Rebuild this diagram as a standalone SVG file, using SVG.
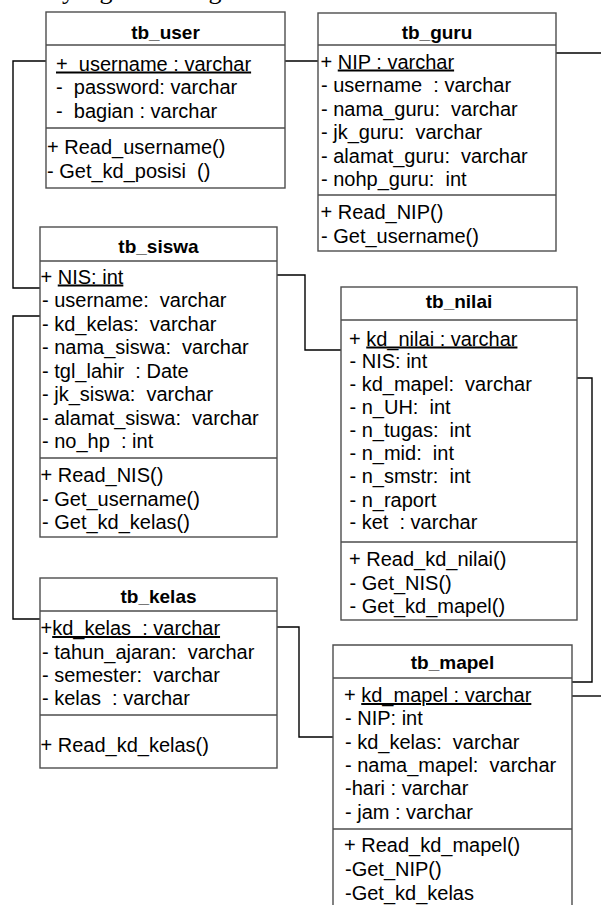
<svg xmlns="http://www.w3.org/2000/svg" width="601" height="905" viewBox="0 0 601 905">
<style>
.box{fill:#fff;stroke:#4d4d4d;stroke-width:1.4}
.sep{stroke:#4d4d4d;stroke-width:1.4}
.t{font-family:"Liberation Sans",Arial,sans-serif;font-size:20px;fill:#000}
.h{font-family:"Liberation Sans",Arial,sans-serif;font-size:19px;font-weight:bold;text-anchor:middle;fill:#000}
.u{text-decoration:underline}
.conn{fill:none;stroke:#000;stroke-width:1.4}
.cap{font-family:"Liberation Serif","Times New Roman",serif;font-size:26px;fill:#000}
</style>
<rect width="601" height="905" fill="#fff"/>
<text class="cap" x="62" y="-1.5">yang dirancang:</text>

<g id="connectors">
<path class="conn" d="M285 61H318"/>
<path class="conn" d="M46 61H13V288H40"/>
<path class="conn" d="M40 316H13V619H40"/>
<path class="conn" d="M277 275H305V350H341"/>
<path class="conn" d="M577 378H592V682H572"/>
<path class="conn" d="M277 627H299V737H333"/>
<path class="conn" d="M556 53H601"/>
<path class="conn" d="M572 696H601"/>
</g>

<g id="tb_user">
<rect class="box" x="46" y="12" width="239" height="176"/>
<line class="sep" x1="46" y1="45" x2="285" y2="45"/>
<line class="sep" x1="46" y1="128" x2="285" y2="128"/>
<text class="h" x="165.5" y="38.5">tb_user</text>
<text class="t u" x="56" y="70.5" xml:space="preserve">+  username : varchar</text>
<text class="t" x="56" y="94" xml:space="preserve">-  password: varchar</text>
<text class="t" x="56" y="117.5" xml:space="preserve">-  bagian : varchar</text>
<text class="t" x="47" y="154">+ Read_username()</text>
<text class="t" x="47" y="178" xml:space="preserve">- Get_kd_posisi  ()</text>
</g>

<g id="tb_guru">
<rect class="box" x="318" y="13" width="238" height="238"/>
<line class="sep" x1="318" y1="45" x2="556" y2="45"/>
<line class="sep" x1="318" y1="195" x2="556" y2="195"/>
<text class="h" x="437" y="38.5">tb_guru</text>
<text class="t" x="320.5" y="68.5">+ <tspan class="u">NIP : varchar</tspan></text>
<text class="t" x="321" y="92" xml:space="preserve">- username  : varchar</text>
<text class="t" x="321" y="115.5" xml:space="preserve">- nama_guru:  varchar</text>
<text class="t" x="321" y="139" xml:space="preserve">- jk_guru:  varchar</text>
<text class="t" x="321" y="162.5" xml:space="preserve">- alamat_guru:  varchar</text>
<text class="t" x="321" y="186" xml:space="preserve">- nohp_guru:  int</text>
<text class="t" x="320.5" y="219">+ Read_NIP()</text>
<text class="t" x="321" y="243">- Get_username()</text>
</g>

<g id="tb_siswa">
<rect class="box" x="40" y="227" width="237" height="310"/>
<line class="sep" x1="40" y1="261" x2="277" y2="261"/>
<line class="sep" x1="40" y1="458" x2="277" y2="458"/>
<text class="h" x="158.5" y="252.5">tb_siswa</text>
<text class="t" x="40.5" y="283.5">+ <tspan class="u">NIS: int</tspan></text>
<text class="t" x="42" y="307" xml:space="preserve">- username:  varchar</text>
<text class="t" x="42" y="330.5" xml:space="preserve">- kd_kelas:  varchar</text>
<text class="t" x="42" y="354" xml:space="preserve">- nama_siswa:  varchar</text>
<text class="t" x="42" y="377.5" xml:space="preserve">- tgl_lahir  : Date</text>
<text class="t" x="42" y="401" xml:space="preserve">- jk_siswa:  varchar</text>
<text class="t" x="42" y="424.5" xml:space="preserve">- alamat_siswa:  varchar</text>
<text class="t" x="42" y="448" xml:space="preserve">- no_hp  : int</text>
<text class="t" x="40.5" y="482">+ Read_NIS()</text>
<text class="t" x="42" y="505.5">- Get_username()</text>
<text class="t" x="42" y="529">- Get_kd_kelas()</text>
</g>

<g id="tb_nilai">
<rect class="box" x="341" y="287" width="236" height="333"/>
<line class="sep" x1="341" y1="320" x2="577" y2="320"/>
<line class="sep" x1="341" y1="542" x2="577" y2="542"/>
<text class="h" x="459" y="308">tb_nilai</text>
<text class="t" x="349" y="345.5">+ <tspan class="u">kd_nilai : varchar</tspan></text>
<text class="t" x="349.5" y="368">- NIS: int</text>
<text class="t" x="349.5" y="391" xml:space="preserve">- kd_mapel:  varchar</text>
<text class="t" x="349.5" y="414" xml:space="preserve">- n_UH:  int</text>
<text class="t" x="349.5" y="437" xml:space="preserve">- n_tugas:  int</text>
<text class="t" x="349.5" y="460" xml:space="preserve">- n_mid:  int</text>
<text class="t" x="349.5" y="483" xml:space="preserve">- n_smstr:  int</text>
<text class="t" x="349.5" y="506.5">- n_raport</text>
<text class="t" x="349.5" y="529" xml:space="preserve">- ket  : varchar</text>
<text class="t" x="349" y="566">+ Read_kd_nilai()</text>
<text class="t" x="349.5" y="589.5">- Get_NIS()</text>
<text class="t" x="349.5" y="612.5">- Get_kd_mapel()</text>
</g>

<g id="tb_kelas">
<rect class="box" x="40" y="578" width="237" height="190"/>
<line class="sep" x1="40" y1="611" x2="277" y2="611"/>
<line class="sep" x1="40" y1="715" x2="277" y2="715"/>
<text class="h" x="158.5" y="603">tb_kelas</text>
<text class="t" x="40.5" y="635">+<tspan class="u" xml:space="preserve">kd_kelas  : varchar</tspan></text>
<text class="t" x="42" y="659" xml:space="preserve">- tahun_ajaran:  varchar</text>
<text class="t" x="42" y="682" xml:space="preserve">- semester:  varchar</text>
<text class="t" x="42" y="705" xml:space="preserve">- kelas  : varchar</text>
<text class="t" x="40.5" y="751.5">+ Read_kd_kelas()</text>
</g>

<g id="tb_mapel">
<path class="box" d="M333 906V645H572V906"/>
<line class="sep" x1="333" y1="678" x2="572" y2="678"/>
<line class="sep" x1="333" y1="829" x2="572" y2="829"/>
<text class="h" x="452.5" y="669">tb_mapel</text>
<text class="t" x="344" y="702">+ <tspan class="u">kd_mapel : varchar</tspan></text>
<text class="t" x="345" y="725">- NIP: int</text>
<text class="t" x="345" y="748.5" xml:space="preserve">- kd_kelas:  varchar</text>
<text class="t" x="345" y="772" xml:space="preserve">- nama_mapel:  varchar</text>
<text class="t" x="345" y="795">-hari : varchar</text>
<text class="t" x="345" y="818.5">- jam : varchar</text>
<text class="t" x="344" y="852">+ Read_kd_mapel()</text>
<text class="t" x="345" y="876">-Get_NIP()</text>
<text class="t" x="345" y="900">-Get_kd_kelas</text>
</g>
</svg>
